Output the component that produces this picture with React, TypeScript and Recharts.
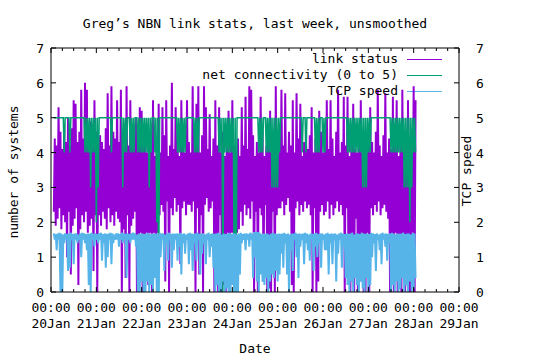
import React from "react";
import { ComposedChart, Line, XAxis, YAxis, Legend, ReferenceLine, Customized } from "recharts";

// hourly buckets from 20Jan 01:30, each bucket gives a low and a high sample
const DAYS = ["20Jan", "21Jan", "22Jan", "23Jan", "24Jan", "25Jan", "26Jan", "27Jan", "28Jan", "29Jan"];
const SERIES_NAMES = ["link status", "net connectivity (0 to 5)", "TCP speed"];

const linkHigh = [
  4.4, 4.2, 5.3, 4.6, 4.1, 4.8, 4.3, 5.0, 4.2, 4.7, 5.5, 5.4, 4.3, 4.6, 5.8, 4.4, 6.0, 5.8, 4.2, 4.9, 4.3, 5.5, 4.6, 4.1,
  4.5, 4.3, 4.1, 4.7, 5.7, 4.2, 5.9, 4.6, 4.4, 5.5, 4.3, 5.8, 4.1, 4.8, 5.9, 4.2, 5.5, 4.4, 4.6, 5.0, 4.2, 5.3, 5.2, 4.5,
  4.2, 4.0, 4.6, 4.1, 5.5, 3.9, 4.4, 5.4, 4.0, 5.3, 4.5, 5.5, 3.9, 4.2, 6.0, 4.1, 5.3, 4.4, 3.9, 5.5, 4.6, 4.0, 5.5, 4.3,
  4.0, 5.9, 4.3, 5.4, 5.9, 4.0, 4.5, 5.9, 5.3, 4.1, 5.1, 3.9, 4.4, 5.5, 4.2, 5.3, 4.0, 4.6, 3.9, 4.3, 5.2, 4.0, 5.5, 4.2,
  4.0, 4.4, 3.9, 5.3, 4.2, 5.6, 4.1, 5.9, 5.8, 4.5, 3.9, 4.3, 4.0, 5.6, 4.6, 3.9, 4.2, 4.4, 5.2, 4.0, 4.5, 5.9, 3.9, 4.3,
  5.8, 4.2, 5.7, 4.0, 4.6, 4.2, 5.5, 4.0, 5.7, 4.4, 5.4, 3.9, 4.3, 4.7, 4.1, 4.5, 5.3, 4.0, 4.4, 4.1, 5.2, 4.6, 4.0, 4.3,
  5.5, 4.1, 5.5, 4.4, 3.9, 4.6, 5.8, 4.0, 4.3, 5.6, 4.2, 5.6, 3.9, 4.5, 5.4, 4.1, 4.0, 4.7, 5.5, 4.1, 4.4, 4.0, 4.6, 5.3,
  4.3, 4.0, 4.6, 5.8, 4.2, 3.9, 4.5, 5.7, 4.0, 4.4, 4.1, 5.6, 4.2, 5.5, 3.9, 4.6, 5.8, 4.0, 4.3, 5.5, 4.1, 4.4, 5.9, 5.5,
];

const linkLow = [
  2.3, 1.9, 2.1, 2.4, 1.8, 2.2, 2.0, 1.0, 2.3, 0.5, 1.9, 2.1, 2.4, 0.2, 1.8, 2.2, 2.0, 2.3, 1.7, 1.9, 2.1, 0.6, 2.2, 0.0,
  2.2, 1.9, 2.3, 2.1, 1.8, 2.4, 2.0, 2.2, 1.9, 2.3, 2.1, 2.0, 0.0, 1.8, 0.4, 2.2, 0.0, 1.9, 2.1, 2.3, 0.0, 0.3, 1.7, 0.0,
  0.0, 1.7, 0.2, 1.7, 0.0, 1.7, 0.5, 1.7, 2.2, 2.5, 2.3, 0.3, 2.6, 0.0, 2.4, 2.2, 2.7, 2.3, 2.5, 0.8, 2.4, 2.6, 2.2, 2.5,
  2.5, 2.3, 2.6, 0.0, 2.4, 0.5, 2.2, 0.0, 2.5, 2.7, 2.3, 2.4, 2.6, 0.0, 0.4, 0.0, 2.2, 0.0, 0.2, 0.0, 1.7, 0.0, 1.7, 1.7,
  0.0, 1.7, 1.8, 2.3, 1.9, 2.5, 2.2, 2.4, 2.1, 2.6, 0.0, 2.3, 0.0, 2.4, 2.2, 0.3, 2.5, 0.0, 0.1, 0.0, 2.3, 0.0, 2.2, 2.4,
  2.4, 2.6, 2.2, 2.5, 2.7, 2.3, 0.2, 0.0, 2.4, 2.6, 2.2, 2.5, 2.3, 2.6, 2.4, 2.5, 2.2, 0.0, 2.4, 0.0, 0.3, 2.3, 2.5, 2.2,
  2.3, 2.6, 2.1, 2.5, 2.2, 2.4, 2.6, 2.3, 2.5, 2.2, 0.0, 2.4, 0.2, 0.0, 1.7, 0.0, 2.1, 0.0, 0.3, 1.7, 0.0, 0.0, 1.7, 0.0,
  2.4, 2.2, 2.5, 2.3, 2.6, 2.2, 2.4, 2.5, 2.3, 2.1, 0.0, 0.2, 0.0, 1.7, 0.0, 0.1, 0.0, 1.7, 0.0, 0.3, 0.0, 0.0, 1.7, 0.0,
];

const netLow = [
  5, 5, 5, 5, 5, 4, 5, 5, 4, 5, 5, 5, 5, 5, 5, 5, 4, 4, 4, 3, 4, 4, 2, 3,
  5, 5, 5, 5, 5, 5, 4, 5, 5, 5, 5, 5, 3, 4, 4, 5, 4, 4, 4, 5, 4, 4, 4, 4,
  4, 4, 3, 4, 5, 4, 2, 0, 5, 5, 5, 5, 5, 5, 5, 5, 5, 4, 4, 4, 4, 4, 5, 5,
  5, 5, 4, 4, 4, 5, 5, 5, 5, 5, 5, 5, 5, 5, 5, 4, 4, 0, 4, 4, 4, 4, 4, 0,
  0, 5, 5, 5, 5, 5, 5, 5, 5, 5, 5, 5, 4, 4, 4, 5, 4, 4, 4, 3, 3, 3, 3, 4,
  5, 5, 5, 5, 5, 5, 5, 5, 5, 5, 5, 4, 5, 4, 5, 5, 5, 5, 4, 4, 4, 5, 4, 4,
  5, 5, 5, 5, 5, 5, 5, 5, 5, 5, 5, 4, 4, 4, 4, 4, 4, 4, 4, 3, 3, 3, 4, 4,
  5, 5, 5, 5, 5, 5, 5, 5, 5, 5, 4, 4, 4, 4, 4, 4, 4, 3, 3, 3, 2, 3, 4, 4,
];

const tcpHigh = [
  1.68, 1.66, 1.68, 1.7, 1.68, 1.65, 1.68, 1.67, 1.68, 1.7, 1.66, 1.68, 1.68, 1.65, 1.68, 1.7, 1.68, 1.66, 1.68, 1.68, 1.7, 1.67, 1.68, 1.66,
  1.68, 1.7, 1.66, 1.68, 1.67, 1.68, 1.7, 1.68, 1.65, 1.68, 1.68, 1.66, 1.7, 1.68, 1.67, 1.68, 1.66, 1.68, 1.7, 1.68, 1.65, 1.68, 1.67, 1.68,
  1.66, 1.68, 1.7, 1.65, 1.68, 1.67, 1.68, 1.66, 1.7, 1.68, 1.68, 1.65, 1.68, 1.7, 1.66, 1.68, 1.67, 1.68, 1.68, 1.7, 1.66, 1.68, 1.65, 1.68,
  1.7, 1.68, 1.66, 1.68, 1.7, 1.67, 1.68, 1.68, 1.65, 1.68, 1.7, 1.66, 1.68, 1.67, 1.68, 1.7, 1.68, 1.65, 1.68, 1.66, 1.68, 1.7, 1.67, 1.68,
  1.68, 1.65, 1.68, 1.7, 1.66, 1.68, 1.68, 1.67, 1.7, 1.68, 1.72, 1.73, 1.72, 1.7, 1.66, 1.68, 1.67, 1.68, 1.65, 1.68, 1.7, 1.68, 1.66, 1.68,
  1.67, 1.68, 1.7, 1.66, 1.68, 1.65, 1.68, 1.68, 1.7, 1.67, 1.68, 1.66, 1.68, 1.7, 1.68, 1.65, 1.68, 1.67, 1.68, 1.7, 1.66, 1.68, 1.68, 1.65,
  1.68, 1.7, 1.66, 1.68, 1.67, 1.68, 1.65, 1.68, 1.7, 1.68, 1.66, 1.68, 1.67, 1.68, 1.7, 1.65, 1.68, 1.68, 1.66, 1.7, 1.68, 1.67, 1.68, 1.66,
  1.7, 1.68, 1.66, 1.68, 1.65, 1.68, 1.7, 1.67, 1.68, 1.66, 1.68, 1.7, 1.68, 1.65, 1.68, 1.67, 1.68, 1.7, 1.66, 1.68, 1.68, 1.65, 1.7, 1.68,
];

const tcpLow = [
  1.5, 1.2, 1.5, 0.0, 0.0, 1.4, 1.5, 0.6, 0.7, 1.5, 0.8, 1.5, 1.4, 1.5, 1.0, 1.5, 1.4, 1.2, 0.2, 0.0, 1.5, 1.3, 1.5, 1.4,
  1.5, 0.9, 1.4, 0.7, 1.0, 1.5, 0.8, 1.4, 1.5, 1.5, 1.3, 1.5, 1.4, 1.5, 0.4, 1.5, 1.4, 1.5, 1.5, 1.3, 0.0, 0.0, 0.3, 0.0,
  0.0, 0.3, 0.0, 0.2, 0.0, 0.4, 0.0, 0.0, 1.0, 1.5, 0.6, 1.4, 0.9, 1.5, 0.7, 1.2, 1.5, 0.9, 1.3, 0.5, 1.4, 1.1, 1.5, 0.8,
  1.2, 0.6, 1.4, 0.9, 1.5, 0.5, 1.1, 1.4, 0.8, 1.5, 1.0, 1.3, 0.7, 0.0, 0.2, 0.0, 0.0, 0.3, 0.0, 0.1, 0.0, 0.0, 0.2, 0.0,
  0.0, 0.0, 0.5, 1.4, 1.5, 1.2, 1.5, 1.3, 1.5, 0.4, 1.0, 0.3, 0.0, 0.5, 0.3, 0.2, 0.4, 0.0, 0.3, 0.5, 0.4, 0.6, 0.3, 0.5,
  1.1, 0.7, 1.4, 0.5, 0.0, 1.2, 0.6, 1.5, 1.0, 0.4, 1.3, 1.5, 0.8, 1.4, 1.2, 0.9, 1.5, 0.6, 1.3, 1.0, 1.4, 0.7, 1.5, 1.2,
  1.2, 0.5, 1.4, 0.8, 1.5, 0.3, 1.1, 1.5, 0.7, 1.3, 0.4, 0.2, 0.0, 0.3, 0.0, 0.4, 0.2, 0.0, 0.3, 0.1, 0.0, 0.4, 0.0, 0.2,
  1.0, 1.4, 0.6, 1.5, 1.2, 0.8, 1.5, 1.3, 0.9, 1.4, 0.0, 0.2, 0.0, 0.3, 0.0, 0.1, 0.4, 0.0, 0.2, 0.0, 0.3, 0.0, 0.1, 0.4,
];

const NET_FULL = 5;
const FONT = "'DejaVu Sans Mono', monospace";
const COLORS = ["#9400d3", "#009e73", "#56b4e9"];
const LEFT = 51;
const RIGHT = 459;
const TOP = 48;
const BOTTOM = 292;

// hours since 20Jan 00:00
const rows = linkHigh.flatMap((hi, i) => [
  { t: i + 1.5, link: linkLow[i], net: NET_FULL, tcp: tcpHigh[i] },
  { t: i + 2, link: hi, net: netLow[i], tcp: tcpLow[i] },
]);

const xTicks = Array.from({ length: (DAYS.length - 1) * 4 + 1 }, (_, i) => i * 6);
const yTicks = [0, 1, 2, 3, 4, 5, 6, 7];

function XTick(props: any) {
  const { x, payload } = props;
  const major = payload.value % 24 === 0;
  const len = major ? 5 : 3;
  return (
    <g>
      <line x1={x} x2={x} y1={BOTTOM} y2={BOTTOM - len} stroke="#000" />
      <line x1={x} x2={x} y1={TOP} y2={TOP + len} stroke="#000" />
      {major && (
        <text textAnchor="middle" fontFamily={FONT} fontSize={13} fill="#000">
          <tspan x={x} y={312}>00:00</tspan>
          <tspan x={x} y={328}>{DAYS[payload.value / 24]}</tspan>
        </text>
      )}
    </g>
  );
}

function LeftTick(props: any) {
  const { y, payload } = props;
  return (
    <g>
      <line x1={LEFT} x2={LEFT + 5} y1={y} y2={y} stroke="#000" />
      <text x={44} y={y + 5} textAnchor="end" fontFamily={FONT} fontSize={13} fill="#000">
        {payload.value}
      </text>
    </g>
  );
}

function RightTick(props: any) {
  const { y, payload } = props;
  return (
    <g>
      <line x1={RIGHT} x2={RIGHT - 5} y1={y} y2={y} stroke="#000" />
      <text x={476} y={y + 5} textAnchor="start" fontFamily={FONT} fontSize={13} fill="#000">
        {payload.value}
      </text>
    </g>
  );
}

function LegendBox() {
  return (
    <div style={{ position: "relative", width: 540, height: 0, fontFamily: FONT, fontSize: 13, color: "#000" }}>
      {SERIES_NAMES.map((name, i) => (
        <div key={name} style={{ position: "absolute", left: 0, top: 51 + i * 16, width: 540, height: 16 }}>
          <span style={{ position: "absolute", right: 142, top: 0, lineHeight: "16px", whiteSpace: "pre" }}>{name}</span>
        </div>
      ))}
    </div>
  );
}

function Labels() {
  return (
    <g fontFamily={FONT} fontSize={13} fill="#000">
      <text x={255} y={28} textAnchor="middle">Greg’s NBN link stats, last week, unsmoothed</text>
      <text x={255} y={353} textAnchor="middle">Date</text>
      <text transform="translate(18,172) rotate(-90)" textAnchor="middle">number of systems</text>
      <text transform="translate(471,171) rotate(-90)" textAnchor="middle">TCP speed</text>
      {COLORS.map((c, i) => (
        <line key={c} x1={407} x2={442} y1={59.5 + i * 16} y2={59.5 + i * 16} stroke={c} strokeWidth={1} />
      ))}
    </g>
  );
}

export default function App() {
  return (
    <div style={{ position: "absolute", left: 0, top: 0, background: "#fff" }}>
      <ComposedChart width={540} height={360} data={rows} margin={{ top: TOP, right: 0, bottom: 0, left: 0 }}>
        <XAxis
          dataKey="t"
          type="number"
          domain={[0, 216]}
          ticks={xTicks}
          interval={0}
          height={68}
          tickLine={false}
          axisLine={{ stroke: "#000" }}
          tick={<XTick />}
        />
        <YAxis
          yAxisId="left"
          domain={[0, 7]}
          ticks={yTicks}
          width={51}
          tickLine={false}
          axisLine={{ stroke: "#000" }}
          tick={<LeftTick />}
        />
        <YAxis
          yAxisId="right"
          orientation="right"
          domain={[0, 7]}
          ticks={yTicks}
          width={81}
          tickLine={false}
          axisLine={{ stroke: "#000" }}
          tick={<RightTick />}
        />
        <ReferenceLine yAxisId="left" y={7} stroke="#000" />
        <Line yAxisId="left" type="linear" dataKey="link" name={SERIES_NAMES[0]} stroke={COLORS[0]} strokeWidth={2} dot={false} activeDot={false} isAnimationActive={false} />
        <Line yAxisId="left" type="linear" dataKey="net" name={SERIES_NAMES[1]} stroke={COLORS[1]} strokeWidth={1.5} dot={false} activeDot={false} isAnimationActive={false} />
        <Line yAxisId="right" type="linear" dataKey="tcp" name={SERIES_NAMES[2]} stroke={COLORS[2]} strokeWidth={2} dot={false} activeDot={false} isAnimationActive={false} />
        <Legend
          layout="horizontal"
          verticalAlign="middle"
          align="center"
          content={<LegendBox />}
          wrapperStyle={{ position: "absolute", left: 0, top: 0, width: 540, height: 0 }}
        />
        <Customized component={<Labels />} />
      </ComposedChart>
    </div>
  );
}
